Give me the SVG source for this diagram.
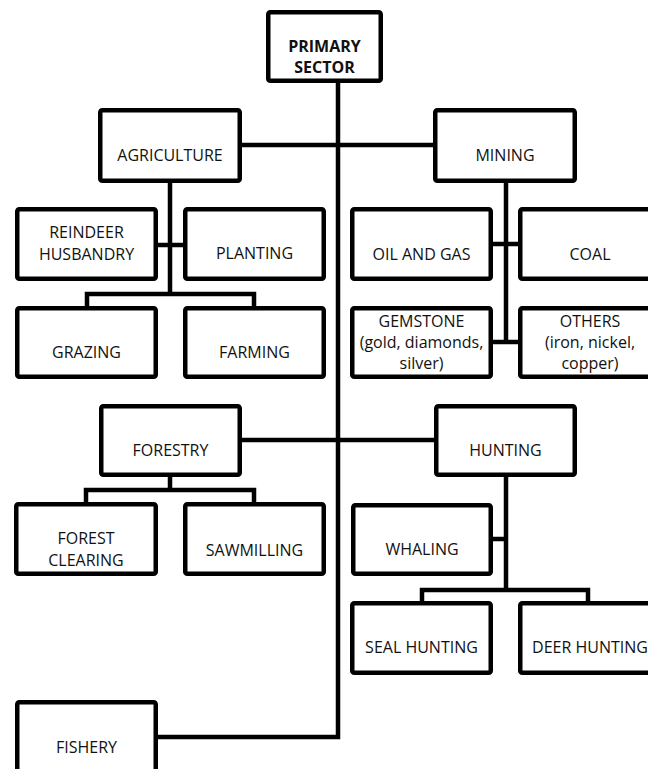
<svg xmlns="http://www.w3.org/2000/svg" width="648" height="769" viewBox="0 0 648 769">
<style>
.box{fill:#fff;stroke:#000;stroke-width:4.5}
.c{fill:none;stroke:#000;stroke-width:4.5;stroke-linejoin:miter}
text{font-family:"Open Sans","Noto Sans",sans-serif;font-size:16px;fill:#111;text-anchor:middle}
.b{font-weight:bold}
</style>
<rect width="648" height="769" fill="#fff"/>
<g id="connectors">
<path class="c" d="M338,83 V737 H158"/>
<path class="c" d="M242,145 H433"/>
<path class="c" d="M242,440 H434"/>
<path class="c" d="M170,183 V294"/>
<path class="c" d="M158,245 H183"/>
<path class="c" d="M87,306 V294 H254 V306"/>
<path class="c" d="M506,183 V342"/>
<path class="c" d="M493,244 H518"/>
<path class="c" d="M493,342 H518"/>
<path class="c" d="M170,477 V490"/>
<path class="c" d="M86,502 V490 H254 V502"/>
<path class="c" d="M506,477 V590"/>
<path class="c" d="M493,539 H506"/>
<path class="c" d="M422,601 V590 H588 V601"/>
</g>
<g id="primary"><rect class="box" x="268.25" y="12.25" width="112.5" height="68.5" rx="2"/><text class="b" x="324.5" y="52">PRIMARY</text><text class="b" x="324.5" y="73">SECTOR</text></g>
<g id="agriculture"><rect class="box" x="100.25" y="110.25" width="139.5" height="70.5" rx="2"/><text x="170" y="161">AGRICULTURE</text></g>
<g id="mining"><rect class="box" x="435.25" y="110.25" width="139.5" height="70.5" rx="2"/><text x="505" y="161">MINING</text></g>
<g id="reindeer"><rect class="box" x="17.25" y="209.25" width="138.5" height="69.5" rx="2"/><text x="86.5" y="238">REINDEER</text><text x="86.5" y="260">HUSBANDRY</text></g>
<g id="planting"><rect class="box" x="185.25" y="209.25" width="138.5" height="69.5" rx="2"/><text x="254.5" y="259">PLANTING</text></g>
<g id="grazing"><rect class="box" x="17.25" y="308.25" width="138.5" height="68.5" rx="2"/><text x="86.5" y="358">GRAZING</text></g>
<g id="farming"><rect class="box" x="185.25" y="308.25" width="138.5" height="68.5" rx="2"/><text x="254.5" y="358">FARMING</text></g>
<g id="oilgas"><rect class="box" x="352.25" y="209.25" width="138.5" height="69.5" rx="2"/><text x="421.5" y="260">OIL AND GAS</text></g>
<g id="coal"><rect class="box" x="520.25" y="209.25" width="138.5" height="69.5" rx="2"/><text x="590" y="260">COAL</text></g>
<g id="gemstone"><rect class="box" x="352.25" y="308.25" width="138.5" height="68.5" rx="2"/><text x="421.5" y="327">GEMSTONE</text><text x="421.5" y="348">(gold, diamonds,</text><text x="421.5" y="369">silver)</text></g>
<g id="others"><rect class="box" x="520.25" y="308.25" width="138.5" height="68.5" rx="2"/><text x="590" y="327">OTHERS</text><text x="590" y="348">(iron, nickel,</text><text x="590" y="369">copper)</text></g>
<g id="forestry"><rect class="box" x="101.25" y="406.25" width="138.5" height="68.5" rx="2"/><text x="170.5" y="456">FORESTRY</text></g>
<g id="hunting"><rect class="box" x="436.25" y="406.25" width="138.5" height="68.5" rx="2"/><text x="505.5" y="456">HUNTING</text></g>
<g id="forestclearing"><rect class="box" x="16.25" y="504.25" width="139.5" height="69.5" rx="2"/><text x="86" y="544">FOREST</text><text x="86" y="566">CLEARING</text></g>
<g id="sawmilling"><rect class="box" x="185.25" y="504.25" width="138.5" height="69.5" rx="2"/><text x="254.5" y="556">SAWMILLING</text></g>
<g id="whaling"><rect class="box" x="353.25" y="505.25" width="137.5" height="68.5" rx="2"/><text x="422" y="555">WHALING</text></g>
<g id="sealhunting"><rect class="box" x="352.25" y="603.25" width="138.5" height="69.5" rx="2"/><text x="421.5" y="653">SEAL HUNTING</text></g>
<g id="deerhunting"><rect class="box" x="520.25" y="603.25" width="138.5" height="69.5" rx="2"/><text x="590" y="653">DEER HUNTING</text></g>
<g id="fishery"><rect class="box" x="17.25" y="702.25" width="138.5" height="69.5" rx="2"/><text x="86.5" y="753">FISHERY</text></g>
</svg>
